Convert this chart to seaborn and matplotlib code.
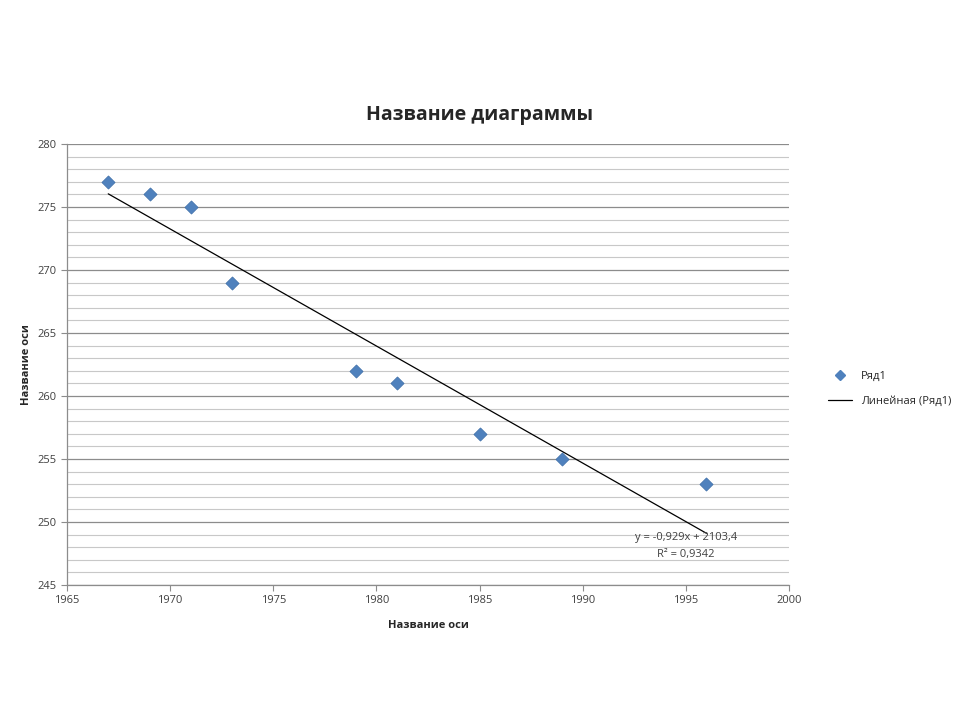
import numpy as np
import pandas as pd
import matplotlib
matplotlib.use("Agg")
import matplotlib.pyplot as plt
import seaborn as sns
from matplotlib.ticker import MultipleLocator
from matplotlib.lines import Line2D

years = [1967, 1969, 1971, 1973, 1979, 1981, 1985, 1989, 1996]
values = [277, 276, 275, 269, 262, 261, 257, 255, 253]
x_ticks = [1965, 1970, 1975, 1980, 1985, 1990, 1995, 2000]
y_ticks = [245, 250, 255, 260, 265, 270, 275, 280]

df = pd.DataFrame({"year": years, "value": values})

sns.set_style("white")
plt.rcParams["font.family"] = ["Open Sans", "DejaVu Sans"]

fig = plt.figure(figsize=(9.6, 7.2), dpi=100)
ax = fig.add_axes([0.0698, 0.1875, 0.752, 0.6125])

# gridlines: minor every 1, major every 5
ax.yaxis.set_minor_locator(MultipleLocator(1))
ax.grid(axis="y", which="minor", color="#c8c8c8", linewidth=0.8)
ax.grid(axis="y", which="major", color="#8c8c8c", linewidth=0.9)
ax.grid(axis="x", which="both", visible=False)
ax.set_axisbelow(True)

# linear trend
slope, intercept = np.polyfit(df["year"], df["value"], 1)
tx = np.array([min(years), max(years)])
ax.plot(tx, slope * tx + intercept, color="black", linewidth=0.9, zorder=2)

sns.scatterplot(data=df, x="year", y="value", marker="D", s=45, color="#4f81bd",
                edgecolor="#3d6ea8", linewidth=0.5, ax=ax, zorder=3)

ax.text(1995.0, 248.8, "y = -0,929x + 2103,4", fontsize=8, color="#404040", ha="center", va="center")
ax.text(1995.0, 247.4, "R² = 0,9342", fontsize=8, color="#404040", ha="center", va="center")

ax.set_xlim(1965, 2000)
ax.set_ylim(245, 280)
ax.set_xticks(x_ticks)
ax.set_yticks(y_ticks)
ax.tick_params(axis="both", which="major", labelsize=8, colors="#404040", length=4,
               direction="out", left=True, bottom=True, color="#8c8c8c")
ax.tick_params(axis="y", which="minor", length=0)
for s in ["top", "right"]:
    ax.spines[s].set_visible(False)
for s in ["left", "bottom"]:
    ax.spines[s].set_color("#8c8c8c")
    ax.spines[s].set_linewidth(0.9)

ax.set_xlabel("Название оси", fontsize=8, fontweight="bold", labelpad=10)
ax.set_ylabel("Название оси", fontsize=8, fontweight="bold", labelpad=4)
fig.text(0.5, 0.84, "Название диаграммы", fontsize=14, fontweight="bold",
         ha="center", va="center", color="#262626")

handles = [
    Line2D([], [], marker="D", linestyle="none", color="#4f81bd", markersize=5),
    Line2D([], [], color="black", linewidth=0.9),
]
fig.legend(handles, ["Ряд1", "Линейная (Ряд1)"], loc="center left",
           bbox_to_anchor=(0.852, 0.46), frameon=False, fontsize=8,
           handlelength=2.2, labelspacing=1.2)

fig.savefig("out.png", dpi=100)
